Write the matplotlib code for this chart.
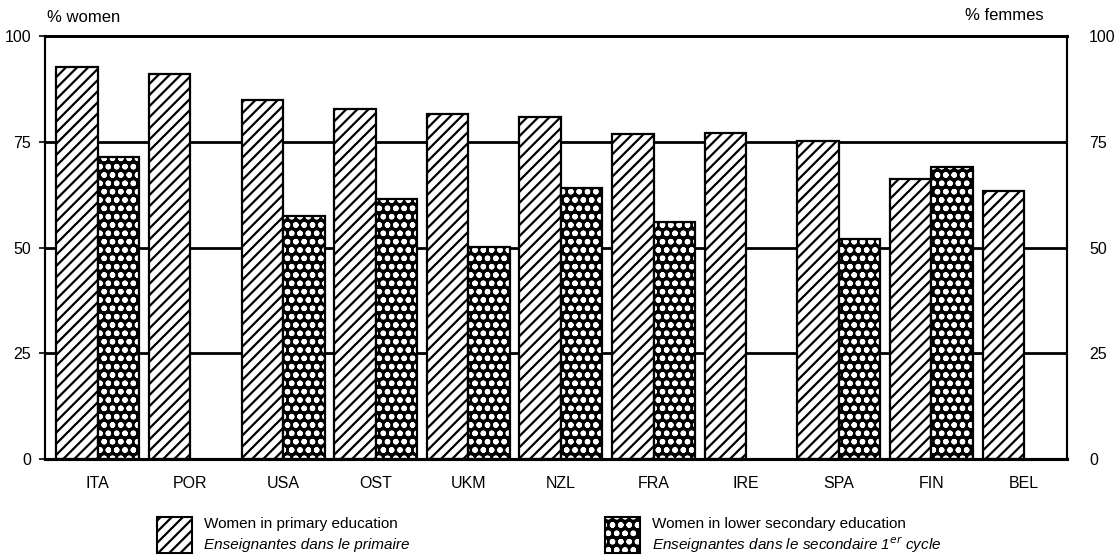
import numpy as np
import matplotlib
matplotlib.use("Agg")
import matplotlib.pyplot as plt
from matplotlib.patches import Rectangle

countries = ["ITA", "POR", "USA", "OST", "UKM", "NZL", "FRA", "IRE", "SPA", "FIN", "BEL"]
primary = [92.7, 91.0, 85.0, 82.7, 81.7, 80.9, 76.8, 77.0, 75.3, 66.1, 63.4]
lower_secondary = [71.5, np.nan, 57.5, 61.5, 50.1, 64.0, 56.0, np.nan, 52.1, 69.0, np.nan]
yticks = [0, 25, 50, 75, 100]
label_primary = ["Women in primary education", "Enseignantes dans le primaire"]
label_secondary = ["Women in lower secondary education", "Enseignantes dans le secondaire 1$^{er}$ cycle"]

plt.rcParams['font.family'] = ['Liberation Sans', 'DejaVu Sans']
plt.rcParams['hatch.linewidth'] = 1.6

fig = plt.figure(figsize=(11.17, 5.56), dpi=100)
ax = fig.add_axes([0.0403, 0.1745, 0.9147, 0.7605])

x = np.arange(len(countries))
w = 0.448
dots = 'oo'

for yv in yticks[1:-1]:
    ax.axhline(yv, color='black', lw=2.0, zorder=1)

ax.bar(x - w / 2, primary, width=w, facecolor='white', edgecolor='black',
       hatch='///', linewidth=1.6, zorder=2)
ax.bar(x + w / 2, lower_secondary, width=w, facecolor='black', edgecolor='white',
       hatch=dots, linewidth=0, zorder=2)
ax.bar(x + w / 2, lower_secondary, width=w, fill=False, edgecolor='black',
       linewidth=1.6, zorder=3)

ax.set_xlim(-0.57, 10.46)
ax.set_ylim(0, 100)
ax.set_xticks(x)
ax.set_xticklabels(countries, fontsize=11.5)
ax.tick_params(axis='x', length=0, pad=12)
ax.set_yticks(yticks)
ax.set_yticklabels([str(v) for v in yticks], fontsize=11.5)
ax.tick_params(axis='y', length=4, width=1.2, pad=6, direction='out')

ax2 = ax.twinx()
ax2.set_ylim(0, 100)
ax2.set_yticks(yticks)
ax2.set_yticklabels([str(v) for v in yticks], fontsize=11.5)
ax2.tick_params(axis='y', length=0, pad=16)

for a in (ax, ax2):
    a.spines['top'].set_linewidth(2.0)
    a.spines['bottom'].set_linewidth(2.2)
    a.spines['left'].set_linewidth(1.5)
    a.spines['right'].set_linewidth(1.5)

fig.text(0.042, 0.968, "% women", fontsize=12, ha='left', va='center')
fig.text(0.934, 0.972, "% femmes", fontsize=12, ha='right', va='center')

# legend
W, H = 1117.0, 556.0
def legend_entry(x0, hatch, face, edge, texts):
    r = Rectangle((x0 / W, 1 - 553 / H), 35 / W, 36 / H, transform=fig.transFigure,
                  facecolor=face, edgecolor=edge, hatch=hatch, linewidth=0 if face == 'black' else 1.5)
    fig.patches.append(r)
    if face == 'black':
        fig.patches.append(Rectangle((x0 / W, 1 - 553 / H), 35 / W, 36 / H, transform=fig.transFigure,
                                     fill=False, edgecolor='black', linewidth=1.5))
    fig.text((x0 + 47) / W, 1 - 524 / H, texts[0], fontsize=11, ha='left', va='center')
    fig.text((x0 + 47) / W, 1 - 545 / H, texts[1], fontsize=11, ha='left', va='center', style='italic')

legend_entry(157, '///', 'white', 'black', label_primary)
legend_entry(605, dots, 'black', 'white', label_secondary)

fig.savefig("out.png", dpi=100)
